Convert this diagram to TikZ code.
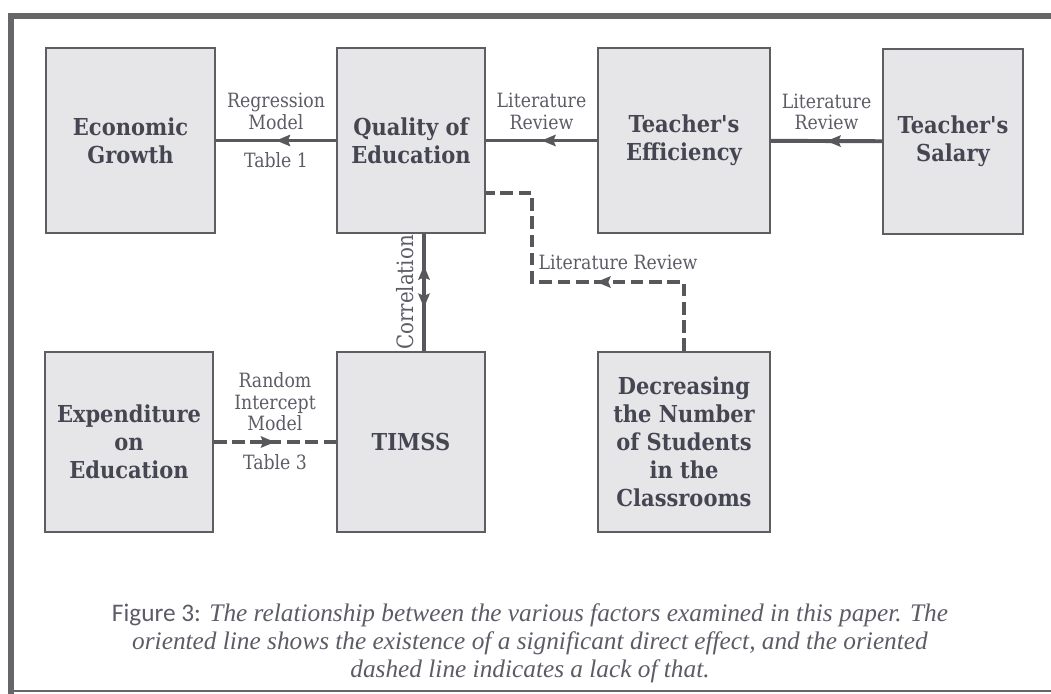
\documentclass[tikz,border=0pt]{standalone}
\usepackage{fontspec}
\setmainfont{DejaVu Serif}[FakeStretch=0.88]
\newfontfamily\factorfont{DejaVu Serif}[FakeStretch=0.9]
\newfontfamily\capfont{Liberation Serif}
\newfontfamily\figfont{Carlito}
\usetikzlibrary{arrows.meta,decorations.markings,calc}
\definecolor{boxfill}{HTML}{E6E6E9}
\definecolor{boxline}{HTML}{5E5E62}
\definecolor{linegray}{HTML}{58585C}
\definecolor{framegray}{HTML}{666668}
\definecolor{txtdark}{HTML}{464653}
\definecolor{txtlight}{HTML}{5C5C66}

\begin{document}
\begin{tikzpicture}[x=0.025cm, y=-0.025cm,
    factor/.style={draw=boxline, line width=1.2pt, fill=boxfill, text=txtdark,
      font=\factorfont\fontsize{16.6}{20}\selectfont\bfseries, align=center, inner sep=0pt},
    link/.style={draw=linegray, line width=2.8pt},
    nolink/.style={link, dash pattern=on 9pt off 4pt},
    tip/.style={postaction={decorate}, decoration={markings,
      mark=at position #1 with {\arrow{Stealth[length=10pt,width=8pt,inset=1.5pt]}}}},
    twotips/.style={postaction={decorate}, decoration={markings,
      mark=at position 0.37 with {\arrowreversed{Stealth[length=10pt,width=8pt,inset=1.5pt]}},
      mark=at position 0.73 with {\arrow{Stealth[length=10pt,width=8pt,inset=1.5pt]}}}},
    lbl/.style={text=txtlight, font=\fontsize{14}{15.5}\selectfont, align=center}]
  \useasboundingbox (0,0) rectangle (1051,693);
  % frame
  \draw[framegray, line width=4.3pt] (1060,16) -- (11,16) -- (11,696);
  \draw[framegray, line width=1.2pt] (11,691) -- (1060,691);

  % factors, top row
  \node[factor, minimum width=4.225cm, minimum height=4.625cm] (growth) at (130.5,140.5) {Economic\\Growth};
  \node[factor, minimum width=3.7cm, minimum height=4.625cm] (quality) at (411,140.5) {Quality of\\Education};
  \node[factor, minimum width=4.3cm, minimum height=4.625cm] (efficiency) at (684,140.5) {Teacher's\\Efficiency};
  \node[factor, minimum width=3.5cm, minimum height=4.625cm] (salary) at (953,141.5) {Teacher's\\Salary};
  % factors, bottom row
  \node[factor, minimum width=4.2cm, minimum height=4.5cm] (expend) at (129,442) {Expenditure\\on\\Education};
  \node[factor, minimum width=3.7cm, minimum height=4.5cm] (timss) at (411,442) {TIMSS};
  \node[factor, minimum width=4.3cm, minimum height=4.5cm] (classes) at (684,442) {Decreasing\\the Number\\of Students\\in the\\Classrooms};

  % direct effects
  \draw[link, tip=0.5] (quality) -- node[lbl, above=3pt] {Regression\\Model} node[lbl, below=4pt] {Table 1} (growth);
  \draw[link, tip=0.5] (efficiency) -- node[lbl, above=3pt] {Literature\\Review} (quality);
  \draw[link, tip=0.5] (salary) -- node[lbl, above=3pt] {Literature\\Review} (efficiency);
  \draw[link, twotips] ($(timss.north)+(13,0)$) -- node[lbl, rotate=90, anchor=south, inner sep=6pt, font=\fontsize{16}{16}\selectfont] {Correlation} ($(quality.south)+(13,0)$);

  % no significant effect
  \draw[nolink, tip=0.5] (expend) -- node[lbl, above=3pt] {Random\\Intercept\\Model} node[lbl, below=4pt] {Table 3} (timss);
  \coordinate (kneeA) at (532,282);
  \coordinate (kneeB) at (532,193);
  \draw[nolink, tip=0.44] (classes.north) |- (kneeA) -- node[lbl, pos=0.22, anchor=west] {Literature Review} (kneeB) -- (kneeB -| quality.east);

  % caption
  \node[text=txtlight, align=center, font=\capfont\fontsize{18}{20}\selectfont] (caption) at (530,643)
    {{\figfont Figure 3:} \textit{The relationship between the various factors examined in this paper. The}\\
     \textit{oriented line shows the existence of a significant direct effect, and the oriented}\\
     \textit{dashed line indicates a lack of that.}};
\end{tikzpicture}
\end{document}
